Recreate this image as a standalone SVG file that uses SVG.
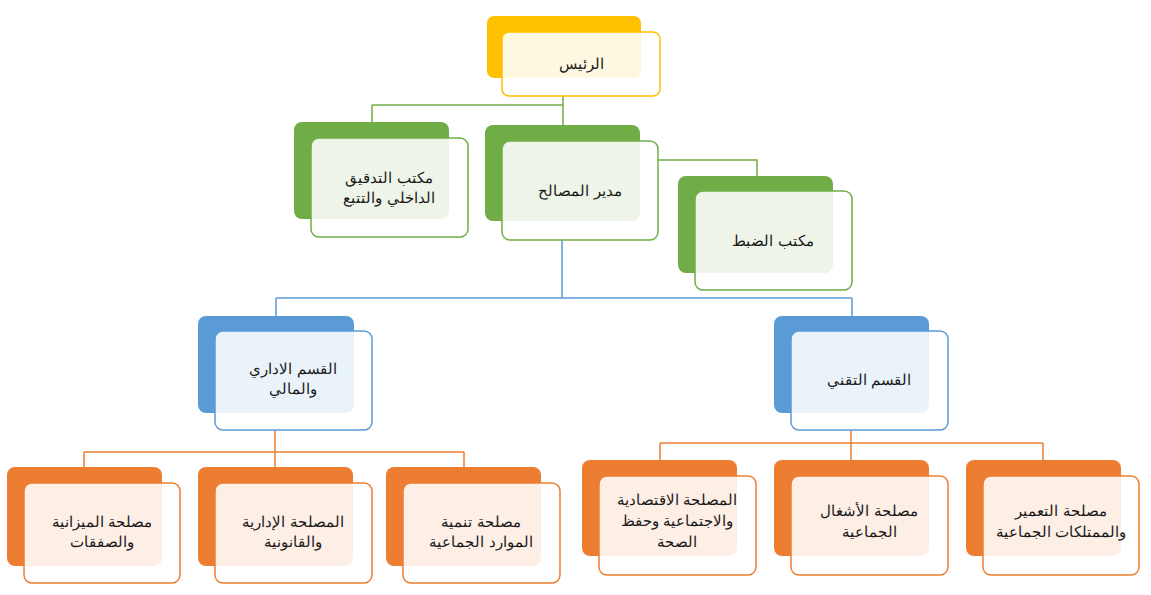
<svg xmlns="http://www.w3.org/2000/svg" width="1151" height="595" viewBox="0 0 1151 595">
<style>
.f{fill:#fff;fill-opacity:.88;stroke-width:1.5}
text{font-family:"Liberation Sans",Arial,sans-serif;font-size:15px;fill:#1a1a1a;text-anchor:middle}
.c{fill:none;stroke-width:1.5}
</style>
<rect width="1151" height="595" fill="#fff"/>
<g id="connectors">
<path class="c" stroke="#70ad47" d="M563 96V105M372 105H563M372 105V122M563 105V125M658 160H757V176"/>
<path class="c" stroke="#5b9bd5" d="M562 240V298M276 298H852M276 298V316M852 298V316"/>
<path class="c" stroke="#ed7d31" d="M275 430V452M84 452H464M84 452V467M275 452V467M464 452V467M851 430V443M660 443H1043M660 443V460M851 443V460M1043 443V460"/>
</g>
<g id="n1"><rect x="487" y="16" width="154" height="62" rx="7" fill="#ffc000"/><rect class="f" x="502" y="32" width="158" height="64" rx="7" stroke="#ffc000"/><text x="581" y="69">الرئيس</text></g>
<g id="n2"><rect x="294" y="122" width="155" height="97" rx="8" fill="#70ad47"/><rect class="f" x="311" y="138" width="157" height="99" rx="8" stroke="#70ad47"/><text x="389" y="183">مكتب التدقيق</text><text x="389" y="203">الداخلي والتتبع</text></g>
<g id="n3"><rect x="485" y="125" width="155" height="96" rx="8" fill="#70ad47"/><rect class="f" x="502" y="141" width="156" height="99" rx="8" stroke="#70ad47"/><text x="580" y="196">مدير المصالح</text></g>
<g id="n4"><rect x="678" y="176" width="155" height="97" rx="8" fill="#70ad47"/><rect class="f" x="695" y="191" width="157" height="99" rx="8" stroke="#70ad47"/><text x="773" y="246">مكتب الضبط</text></g>
<g id="n5"><rect x="198" y="316" width="156" height="97" rx="8" fill="#5b9bd5"/><rect class="f" x="215" y="331" width="157" height="99" rx="8" stroke="#5b9bd5"/><text x="293" y="374">القسم الاداري</text><text x="293" y="394">والمالي</text></g>
<g id="n6"><rect x="774" y="316" width="155" height="97" rx="8" fill="#5b9bd5"/><rect class="f" x="791" y="331" width="157" height="99" rx="8" stroke="#5b9bd5"/><text x="869" y="385">القسم التقني</text></g>
<g id="n7"><rect x="7" y="467" width="155" height="99" rx="8" fill="#ed7d31"/><rect class="f" x="24" y="483" width="156" height="100" rx="8" stroke="#ed7d31"/><text x="102" y="527">مصلحة الميزانية</text><text x="102" y="547">والصفقات</text></g>
<g id="n8"><rect x="198" y="467" width="155" height="99" rx="8" fill="#ed7d31"/><rect class="f" x="215" y="483" width="157" height="100" rx="8" stroke="#ed7d31"/><text x="293" y="527">المصلحة الإدارية</text><text x="293" y="547">والقانونية</text></g>
<g id="n9"><rect x="386" y="467" width="155" height="99" rx="8" fill="#ed7d31"/><rect class="f" x="403" y="483" width="157" height="100" rx="8" stroke="#ed7d31"/><text x="481" y="527">مصلحة تنمية</text><text x="481" y="547">الموارد الجماعية</text></g>
<g id="n10"><rect x="582" y="460" width="155" height="96" rx="8" fill="#ed7d31"/><rect class="f" x="599" y="476" width="157" height="99" rx="8" stroke="#ed7d31"/><text x="677" y="505">المصلحة الاقتصادية</text><text x="677" y="526">والاجتماعية وحفظ</text><text x="677" y="547">الصحة</text></g>
<g id="n11"><rect x="774" y="460" width="155" height="96" rx="8" fill="#ed7d31"/><rect class="f" x="791" y="476" width="157" height="99" rx="8" stroke="#ed7d31"/><text x="869" y="516">مصلحة الأشغال</text><text x="869" y="537">الجماعية</text></g>
<g id="n12"><rect x="966" y="460" width="155" height="96" rx="8" fill="#ed7d31"/><rect class="f" x="983" y="476" width="156" height="99" rx="8" stroke="#ed7d31"/><text x="1061" y="516">مصلحة التعمير</text><text x="1061" y="537">والممتلكات الجماعية</text></g>
</svg>
